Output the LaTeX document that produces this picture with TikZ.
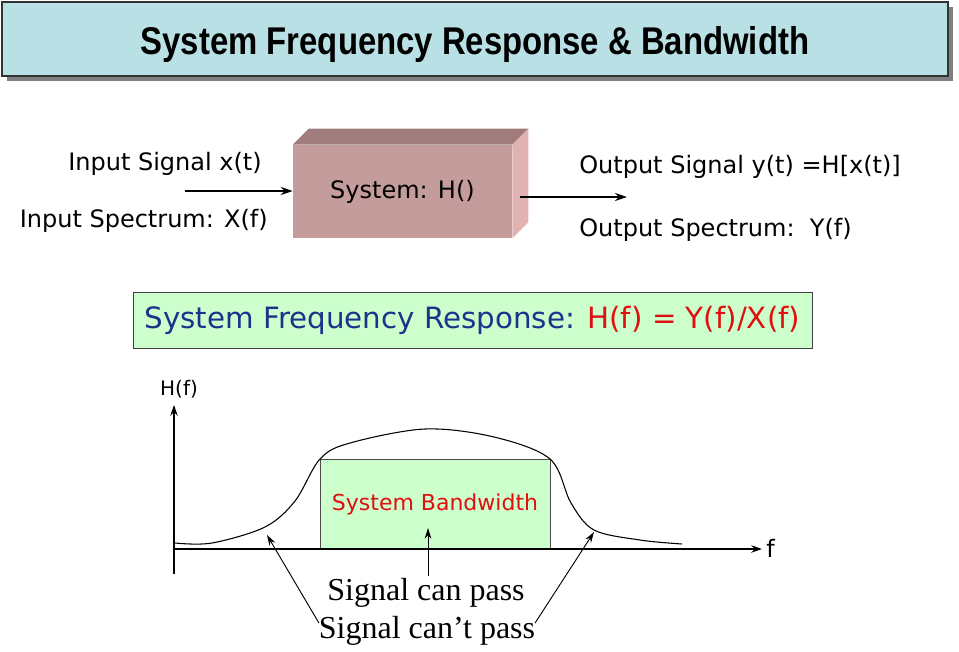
\documentclass[tikz,border=0pt]{standalone}
\usepackage{fontspec}
\setmainfont{Liberation Serif}
\setsansfont{DejaVu Sans}
\newfontfamily\titlefont{Liberation Sans}
\usetikzlibrary{arrows.meta, positioning, shadows}

\definecolor{titlecyan}{HTML}{B9E0E4}
\definecolor{shadowgray}{HTML}{808080}
\definecolor{boxfront}{HTML}{C49C9C}
\definecolor{boxtop}{HTML}{A07C7C}
\definecolor{boxside}{HTML}{E0B2B2}
\definecolor{bandgreen}{HTML}{CCFFCC}
\definecolor{eqblue}{HTML}{1E328C}
\definecolor{eqred}{HTML}{E01010}

\begin{document}
\begin{tikzpicture}[x=0.75pt, y=-0.75pt]
      \tikzset{
  titlebox/.style={
    rectangle, draw=black!80, line width=1.2pt, fill=titlecyan,
    minimum width=709.5pt, minimum height=55.5pt,
    drop shadow={shadow xshift=3.75pt, shadow yshift=-3.75pt, fill=shadowgray, opacity=1}
  },
  titletext/.style={font=\titlefont\bfseries\fontsize{29}{32}\selectfont, inner sep=0pt},
  sysface/.style={
    rectangle, fill=boxfront, minimum width=164.25pt, minimum height=69.75pt,
    font=\sffamily\fontsize{18}{21}\selectfont
  },
  sigtext/.style={font=\sffamily\fontsize{18}{21}\selectfont, inner sep=0pt},
  eqbox/.style={
    rectangle, draw=black!75, line width=0.6pt, fill=bandgreen,
    minimum width=509.25pt, minimum height=42pt,
    font=\sffamily\fontsize{22}{26}\selectfont
  },
  band/.style={
    rectangle, draw=black!70, line width=0.6pt, fill=bandgreen,
    minimum width=172.5pt, minimum height=67.5pt,
    font=\sffamily\fontsize{16.5}{19}\selectfont, text=eqred
  },
  note/.style={font=\fontsize{24}{28}\selectfont, inner sep=2pt},
  arrow/.style={-{Stealth[length=9pt, width=6pt]}, line width=1.8pt},
  axis/.style={-{Stealth[length=8pt, width=5.5pt]}, line width=1.5pt},
  thinarrow/.style={-{Stealth[length=8pt, width=5pt]}, line width=0.7pt},
  curve/.style={line width=0.8pt},
}

\useasboundingbox (0,0) rectangle (959,651);

%% ---- TITLE ----
\node[titlebox] (title) at (475,39) {};
\node[titletext] (titlelabel) at (475,44) {\scalebox{0.85}[1]{System Frequency Response \& Bandwidth}};

%% ---- SYSTEM BLOCK ----
\node[sysface] (sys) at (402.5,191.5) {System: H()};
\fill[boxtop] (sys.north west) -- ++(16,-16) -- ([shift={(16,-16)}]sys.north east) -- (sys.north east) -- cycle;
\fill[boxside] (sys.north east) -- ++(16,-16) -- ([shift={(16,-16)}]sys.south east) -- (sys.south east) -- cycle;

\node[sigtext, anchor=east] (insig)  at (262,164) {Input Signal x(t)};
\node[sigtext, anchor=east] (inspec) at (268,221) {Input Spectrum: X(f)};
\node[sigtext, anchor=west] (outsig)  at (579,167) {Output Signal y(t) =H[x(t)]};
\node[sigtext, anchor=west] (outspec) at (579,230) {Output Spectrum:\ \ Y(f)};

\coordinate (instart) at (185,191);
\coordinate (outend)  at (627,197);
\draw[arrow] (instart) -- (sys.west |- instart);
\draw[arrow] ([xshift=6pt]sys.east |- outend) -- (outend);

%% ---- EQUATION ----
\node[eqbox] (eq) at (472.5,320) {\textcolor{eqblue}{System Frequency Response:} \textcolor{eqred}{H(f) = Y(f)/X(f)}};

%% ---- PLOT ----
\coordinate (origin) at (174,549);
\coordinate (ytop)   at (174,405);
\coordinate (ybot)   at (174,574);
\coordinate (xtip)   at (762,549);

\node[band] (bw) at (435,504) {System Bandwidth};

\draw[axis] (ybot) -- (ytop);
\draw[axis] (origin) -- (xtip);
\node[sigtext, font=\sffamily\fontsize{15}{18}\selectfont] (hlabel) at (179,389) {H(f)};
\node[sigtext, anchor=west] (flabel) at (766,548) {f};

\draw[curve] plot[smooth, tension=0.55] coordinates {
  (175,543) (212,543) (265,527) (295,501) (320,459) (350,443)
  (425,429) (494,437) (550,459) (571,503) (594,530) (640,540) (682,544)};

%% ---- NOTES ----
\node[note] (canpass)  at (426,593) {Signal can pass};
\node[note] (cantpass) at (427,631) {Signal can’t pass};

\coordinate (lefttip)  at (267,535);
\coordinate (midtip)   at (428,528);
\coordinate (righttip) at (594,532);

\draw[thinarrow] ([shift={(3,-8)}]cantpass.west) -- (lefttip);
\draw[thinarrow] (canpass.north -| midtip) -- (midtip);
\draw[thinarrow] ([shift={(-3,-8)}]cantpass.east) -- (righttip);

    \end{tikzpicture}
\end{document}
